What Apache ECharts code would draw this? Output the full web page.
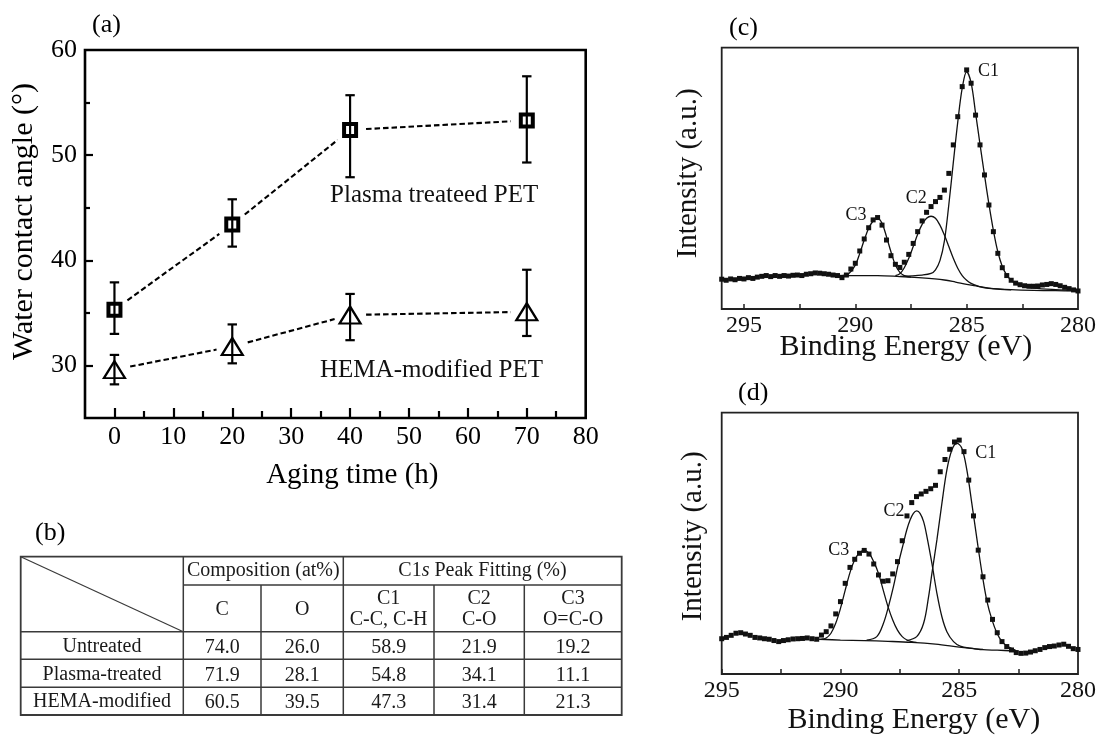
<!DOCTYPE html>
<html>
<head>
<meta charset="utf-8">
<script src="https://cdn.jsdelivr.net/npm/echarts@6/dist/echarts.min.js"></script>
<style>
  html, body { margin: 0; padding: 0; background: #fff; }
  #chart { width: 1101px; height: 736px; }
</style>
</head>
<body>
<div id="chart"></div>
<script>
// ---------- (a) water contact angle versus aging time ----------
const agingTime = [0, 20, 40, 70];
const plasmaAngle = [35.3, 43.4, 52.4, 53.3];
const plasmaErrLow = [33.0, 41.3, 47.9, 49.3];
const plasmaErrHigh = [37.9, 45.8, 55.7, 57.5];
const hemaAngle = [29.6, 31.8, 34.8, 35.1];
const hemaErrLow = [28.2, 30.2, 32.4, 32.8];
const hemaErrHigh = [31.0, 33.9, 36.8, 39.1];
const timeTickLabels = [0, 10, 20, 30, 40, 50, 60, 70, 80];
const timeMajorTicks = [0, 10, 20, 30, 40, 50, 60, 70];
const timeMinorTicks = [5, 15, 25, 35, 45, 55, 65, 75];
const angleTickLabels = [30, 40, 50, 60];
const angleMajorTicks = [30, 40, 50];
const angleMinorTicks = [35, 45, 55];
const curveNames = ['Plasma treateed PET', 'HEMA-modified PET'];

// ---------- (b) surface composition table ----------
const sampleNames = ['Untreated', 'Plasma-treated', 'HEMA-modified'];
const compC = [74.0, 71.9, 60.5];
const compO = [26.0, 28.1, 39.5];
const peakC1 = [58.9, 54.8, 47.3];
const peakC2 = [21.9, 34.1, 31.4];
const peakC3 = [19.2, 11.1, 21.3];
const columnHeads = ['C', 'O', 'C1\nC-C, C-H', 'C2\nC-O', 'C3\nO=C-O'];

// ---------- (c) C1s spectrum, plasma-treated PET ----------
const spectrumC = [
  [296.0, 11.4], [295.8, 11.0], [295.6, 11.5], [295.4, 11.2], [295.2, 11.7], [295.0, 11.5],
  [294.8, 12.0], [294.6, 11.7], [294.4, 12.2], [294.2, 12.5], [294.0, 12.8], [293.8, 12.4],
  [293.6, 12.8], [293.4, 12.5], [293.2, 12.8], [293.0, 12.6], [292.8, 12.9], [292.6, 13.0],
  [292.4, 12.8], [292.2, 13.3], [292.0, 13.5], [291.8, 13.8], [291.6, 13.7], [291.4, 13.5],
  [291.2, 13.3], [291.0, 13.0], [290.8, 12.8], [290.6, 12.0], [290.4, 13.0], [290.2, 15.3],
  [290.0, 17.5], [289.8, 22.2], [289.6, 26.8], [289.4, 31.1], [289.2, 34.1], [289.0, 35.0],
  [288.8, 32.1], [288.6, 26.4], [288.4, 20.4], [288.2, 17.1], [288.0, 15.9], [287.8, 17.9],
  [287.6, 20.9], [287.4, 25.1], [287.2, 29.6], [287.0, 33.7], [286.8, 37.0], [286.6, 39.2],
  [286.4, 41.1], [286.2, 42.7], [286.0, 45.5], [285.8, 51.9], [285.6, 62.8], [285.4, 73.6],
  [285.2, 85.1], [285.0, 91.5], [284.8, 86.4], [284.6, 74.2], [284.4, 62.8], [284.2, 51.3],
  [284.0, 39.8], [283.8, 29.6], [283.6, 21.3], [283.4, 15.8], [283.2, 12.8], [283.0, 11.0],
  [282.8, 9.9], [282.6, 9.3], [282.4, 8.9], [282.2, 8.7], [282.0, 8.7], [281.8, 8.8],
  [281.6, 9.2], [281.4, 9.4], [281.2, 9.7], [281.0, 9.4], [280.8, 8.9], [280.6, 8.3],
  [280.4, 7.8], [280.2, 7.3], [280.0, 6.9]
];
const backgroundC = [
  [290.8, 12.9], [290.0, 12.8], [289.0, 12.8], [288.0, 12.4], [287.0, 11.9], [286.0, 11.1],
  [285.5, 10.3], [285.0, 9.4], [284.5, 8.7], [284.0, 8.0], [283.0, 7.4], [282.0, 7.1],
  [281.0, 7.0], [280.0, 6.9]
];
const fitC3c = [
  [290.6, 12.8], [290.3, 13.5], [290.0, 16.8], [289.8, 21.3], [289.6, 26.4], [289.4, 30.9],
  [289.2, 33.7], [289.0, 34.7], [288.8, 32.8], [288.6, 27.7], [288.4, 21.9], [288.2, 16.8],
  [288.0, 14.0], [287.8, 12.8], [287.5, 12.2]
];
const fitC2c = [
  [288.2, 12.8], [288.0, 13.5], [287.8, 15.8], [287.6, 19.4], [287.4, 23.9], [287.2, 28.6],
  [287.0, 32.4], [286.8, 34.7], [286.6, 35.5], [286.4, 34.7], [286.2, 32.1], [286.0, 28.3],
  [285.8, 23.9], [285.6, 19.4], [285.4, 15.6], [285.2, 12.8], [285.0, 11.0], [284.8, 9.8],
  [284.6, 9.1], [284.3, 8.3], [284.0, 7.9], [283.5, 7.5], [283.0, 7.3]
];
const fitC1c = [
  [288.0, 12.5], [287.0, 13.0], [286.6, 13.6], [286.4, 15.0], [286.2, 18.5], [286.0, 26.0],
  [285.8, 40.0], [285.6, 56.0], [285.4, 71.5], [285.2, 84.5], [285.0, 90.8], [284.8, 86.5],
  [284.6, 75.0], [284.4, 63.0], [284.2, 51.3], [284.0, 40.1], [283.8, 30.1], [283.6, 21.9],
  [283.4, 16.3], [283.2, 13.0], [283.0, 11.0], [282.8, 9.7], [282.5, 8.7], [282.0, 8.0],
  [281.0, 7.4], [280.0, 7.0]
];

// ---------- (d) C1s spectrum, HEMA-modified PET ----------
const spectrumD = [
  [295.0, 13.5], [294.8, 14.0], [294.6, 14.8], [294.4, 15.6], [294.2, 15.8], [294.0, 15.3],
  [293.8, 14.8], [293.6, 14.0], [293.4, 13.8], [293.2, 13.5], [293.0, 13.3], [292.8, 12.8],
  [292.6, 12.4], [292.4, 12.8], [292.2, 13.1], [292.0, 13.4], [291.8, 13.5], [291.6, 13.6],
  [291.4, 13.8], [291.2, 13.5], [291.0, 13.3], [290.8, 14.9], [290.6, 16.2], [290.4, 18.4],
  [290.2, 23.0], [290.0, 27.7], [289.8, 34.7], [289.6, 40.8], [289.4, 43.9], [289.2, 46.2],
  [289.0, 47.3], [288.8, 45.9], [288.6, 42.1], [288.4, 37.9], [288.2, 35.5], [288.0, 35.7],
  [287.8, 38.3], [287.6, 43.0], [287.4, 51.0], [287.2, 60.5], [287.0, 65.6], [286.8, 67.9],
  [286.6, 68.9], [286.4, 69.9], [286.2, 70.9], [286.0, 72.2], [285.8, 77.4], [285.6, 82.1],
  [285.4, 86.0], [285.2, 88.8], [285.0, 89.5], [284.8, 85.1], [284.6, 74.2], [284.4, 60.5],
  [284.2, 47.4], [284.0, 37.2], [283.8, 28.3], [283.6, 20.9], [283.4, 15.8], [283.2, 12.4],
  [283.0, 10.5], [282.8, 9.2], [282.6, 8.2], [282.4, 7.9], [282.2, 8.0], [282.0, 8.4],
  [281.8, 8.9], [281.6, 9.4], [281.4, 10.1], [281.2, 10.5], [281.0, 10.7], [280.8, 11.1],
  [280.6, 11.4], [280.4, 10.6], [280.2, 9.7], [280.0, 9.4]
];
const backgroundD = [
  [290.9, 13.3], [290.0, 13.0], [289.0, 12.8], [288.0, 12.5], [287.0, 12.1], [286.0, 11.4],
  [285.0, 10.3], [284.4, 9.7], [284.0, 9.3], [283.4, 9.1], [282.6, 8.8]
];
const fitC3d = [
  [290.8, 13.3], [290.6, 13.8], [290.4, 15.6], [290.2, 19.4], [290.0, 25.1], [289.8, 32.1],
  [289.6, 38.8], [289.4, 43.7], [289.2, 46.4], [289.0, 47.3], [288.8, 46.2], [288.6, 43.0],
  [288.4, 38.5], [288.2, 32.1], [288.0, 25.8], [287.8, 20.7], [287.6, 16.8], [287.4, 14.3],
  [287.2, 13.0], [287.0, 12.4], [286.8, 12.1]
];
const fitC2d = [
  [288.9, 13.0], [288.47, 14.3], [288.19, 19.4], [287.98, 25.8], [287.77, 33.4], [287.56, 42.3],
  [287.35, 50.0], [287.21, 55.1], [287.07, 58.9], [286.93, 61.5], [286.79, 62.4], [286.65, 61.5],
  [286.5, 58.3], [286.36, 52.6], [286.15, 42.3], [285.94, 30.9], [285.73, 21.9], [285.52, 16.2],
  [285.24, 12.4], [284.96, 10.7], [284.54, 9.9], [284.0, 9.4]
];
const fitC1d = [
  [287.21, 12.8], [286.79, 14.3], [286.5, 19.4], [286.29, 29.6], [286.15, 38.5], [285.94, 51.3],
  [285.73, 65.3], [285.52, 78.1], [285.31, 85.7], [285.1, 88.3], [284.89, 86.4], [284.68, 78.1],
  [284.47, 65.3], [284.25, 51.3], [284.04, 38.5], [283.83, 27.7], [283.62, 20.7], [283.41, 15.6],
  [283.2, 12.4], [282.99, 10.7], [282.71, 9.4], [282.6, 8.9]
];
const peakNames = ['C1', 'C2', 'C3'];
const energyTickLabels = [295, 290, 285, 280];
const energyTicks = [295, 292.5, 290, 287.5, 285, 282.5];

// ---------- drawing ----------
const SERIF = "'Liberation Serif', 'Times New Roman', 'DejaVu Serif', serif";
const INK = '#000';

// where the curve names and peak names sit, in data units of their panels
const curveNameAnchors = [[36.6, 46.2], [34.9, 29.5]];
const peakAnchorsC = [[284.49, 91.1], [287.74, 42.4], [290.44, 35.7]];
const peakAnchorsD = [[284.33, 84.5], [288.19, 62.1], [290.51, 47.5]];

const chart = echarts.init(document.getElementById('chart'), null, { renderer: 'canvas' });

function errorBarItem(params, api) {
  const x = api.value(0);
  const lo = api.coord([x, api.value(1)]);
  const hi = api.coord([x, api.value(2)]);
  const cap = 4.7;
  const style = { stroke: INK, lineWidth: 2.2 };
  return {
    type: 'group',
    children: [
      { type: 'line', shape: { x1: lo[0], y1: lo[1], x2: hi[0], y2: hi[1] }, style },
      { type: 'line', shape: { x1: hi[0] - cap, y1: hi[1], x2: hi[0] + cap, y2: hi[1] }, style },
      { type: 'line', shape: { x1: lo[0] - cap, y1: lo[1], x2: lo[0] + cap, y2: lo[1] }, style }
    ]
  };
}

// dashed joins that stop short of each marker
function connectorItem(params, api) {
  const a = api.coord([api.value(0), api.value(1)]);
  const b = api.coord([api.value(2), api.value(3)]);
  const dx = b[0] - a[0], dy = b[1] - a[1];
  const len = Math.hypot(dx, dy);
  const ux = dx / len, uy = dy / len, gap = 16;
  return {
    type: 'line',
    shape: { x1: a[0] + ux * gap, y1: a[1] + uy * gap, x2: b[0] - ux * gap, y2: b[1] - uy * gap },
    style: { stroke: INK, lineWidth: 2.1, lineDash: [5.5, 3] }
  };
}

function segments(xs, ys) {
  const out = [];
  for (let i = 0; i < xs.length - 1; i++) out.push([xs[i], ys[i], xs[i + 1], ys[i + 1]]);
  return out;
}

function fitLine(data, xi, yi) {
  return {
    type: 'line', xAxisIndex: xi, yAxisIndex: yi, data: data,
    showSymbol: false, symbol: 'none', smooth: 0.35, silent: true,
    lineStyle: { color: '#111', width: 1.3 }, z: 3
  };
}

function spectrumSeries(data, xi, yi) {
  return {
    type: 'scatter', xAxisIndex: xi, yAxisIndex: yi, data: data,
    symbol: 'rect', symbolSize: 5, silent: true,
    itemStyle: { color: '#111', opacity: 1 }, z: 4
  };
}

function peakLabelSeries(anchors, xi, yi) {
  return {
    type: 'scatter', xAxisIndex: xi, yAxisIndex: yi, symbolSize: 0, silent: true,
    itemStyle: { opacity: 1 },
    data: anchors.map((p, i) => ({ value: p, name: peakNames[i] })),
    label: { show: true, position: 'right', distance: 0, formatter: '{b}',
             fontFamily: SERIF, fontSize: 18, color: '#111', opacity: 1 },
    z: 6
  };
}

// ---------- table (b) ----------
const tableX = [20.7, 183.3, 261, 343.3, 434, 524.3, 621.7];
const tableY = [556.7, 585, 631.7, 659.3, 687.3, 715];
const tableValues = [compC, compO, peakC1, peakC2, peakC3];

function buildTable() {
  const els = [];
  const ls = { stroke: '#3a3a3a', lineWidth: 1.5 };
  const txt = { fontFamily: SERIF, fontSize: 20, fill: '#1a1a1a', align: 'center', verticalAlign: 'middle', lineHeight: 21.5 };
  const L = tableX[0], R = tableX[tableX.length - 1], T = tableY[0], B = tableY[tableY.length - 1];
  els.push({ type: 'rect', shape: { x: L, y: T, width: R - L, height: B - T }, style: { fill: 'none', stroke: '#3a3a3a', lineWidth: 1.8 } });
  // vertical rules
  [1, 3].forEach(i => els.push({ type: 'line', shape: { x1: tableX[i], y1: T, x2: tableX[i], y2: B }, style: ls }));
  [2, 4, 5].forEach(i => els.push({ type: 'line', shape: { x1: tableX[i], y1: tableY[1], x2: tableX[i], y2: B }, style: ls }));
  // horizontal rules
  els.push({ type: 'line', shape: { x1: tableX[1], y1: tableY[1], x2: R, y2: tableY[1] }, style: ls });
  for (let r = 2; r < tableY.length - 1; r++) {
    els.push({ type: 'line', shape: { x1: L, y1: tableY[r], x2: R, y2: tableY[r] }, style: ls });
  }
  // diagonal in the corner cell
  els.push({ type: 'line', shape: { x1: L, y1: T, x2: tableX[1], y2: tableY[2] }, style: { stroke: '#3a3a3a', lineWidth: 1.2 } });
  // group headings
  const h1y = (tableY[0] + tableY[1]) / 2;
  els.push({ type: 'text', style: Object.assign({}, txt, { text: 'Composition (at%)', x: (tableX[1] + tableX[3]) / 2, y: h1y }) });
  els.push({ type: 'text', style: Object.assign({}, txt, {
    text: '{n|C1}{i|s}{n| Peak Fitting (%)}', x: (tableX[3] + R) / 2, y: h1y,
    rich: { n: { fontFamily: SERIF, fontSize: 20, fill: '#1a1a1a' },
            i: { fontFamily: SERIF, fontSize: 20, fontStyle: 'italic', fill: '#1a1a1a' } }
  }) });
  // column headings
  const h2y = (tableY[1] + tableY[2]) / 2 + 1;
  columnHeads.forEach((h, c) => {
    els.push({ type: 'text', style: Object.assign({}, txt, { text: h, x: (tableX[c + 1] + tableX[c + 2]) / 2, y: h2y }) });
  });
  // body
  sampleNames.forEach((name, r) => {
    const cy = (tableY[r + 2] + tableY[r + 3]) / 2 + 1;
    els.push({ type: 'text', style: Object.assign({}, txt, { text: name, x: (tableX[0] + tableX[1]) / 2, y: cy }) });
    tableValues.forEach((col, c) => {
      els.push({ type: 'text', style: Object.assign({}, txt, { text: col[r].toFixed(1), x: (tableX[c + 1] + tableX[c + 2]) / 2, y: cy + 1 }) });
    });
  });
  return els;
}

function panelTag(text, x, y) {
  return { type: 'text', style: { text, x, y, fontFamily: SERIF, fontSize: 26, fill: INK, align: 'left', verticalAlign: 'middle' } };
}

const tickLabelA = { fontFamily: SERIF, fontSize: 26, color: INK };
const tickLabelXps = { fontFamily: SERIF, fontSize: 24, color: '#111' };
const noLine = { show: false, onZero: false };

const option = {
  animation: false,
  backgroundColor: '#fff',
  grid: [
    { left: 85, top: 50, width: 500.7, height: 368, show: true, borderColor: INK, borderWidth: 2.6, backgroundColor: 'transparent', outerBoundsMode: 'none' },
    { left: 721.7, top: 47.7, width: 356.3, height: 261.3, show: true, borderColor: '#222', borderWidth: 1.8, backgroundColor: 'transparent', outerBoundsMode: 'none' },
    { left: 721.7, top: 412.7, width: 356.3, height: 261.3, show: true, borderColor: '#222', borderWidth: 1.8, backgroundColor: 'transparent', outerBoundsMode: 'none' }
  ],
  xAxis: [
    { gridIndex: 0, type: 'value', position: 'bottom', min: -5, max: 80,
      axisLine: noLine, splitLine: { show: false },
      axisTick: { show: true, inside: true, length: 10, customValues: timeMajorTicks, lineStyle: { color: INK, width: 2.2 } },
      axisLabel: Object.assign({ customValues: timeTickLabels, margin: 6 }, tickLabelA),
      name: 'Aging time (h)', nameLocation: 'middle', nameGap: 43, nameMoveOverlap: false,
      nameTextStyle: { fontFamily: SERIF, fontSize: 29, color: INK, padding: [0, 0, 0, 34] } },
    { gridIndex: 0, type: 'value', position: 'bottom', min: -5, max: 80,
      axisLine: noLine, splitLine: { show: false }, axisLabel: { show: false },
      axisTick: { show: true, inside: true, length: 7, customValues: timeMinorTicks, lineStyle: { color: INK, width: 2.2 } } },
    { gridIndex: 1, type: 'value', position: 'bottom', min: 280, max: 296, inverse: true,
      axisLine: noLine, splitLine: { show: false },
      axisTick: { show: true, inside: true, length: 5, customValues: energyTicks, lineStyle: { color: '#222', width: 1.5 } },
      axisLabel: Object.assign({ customValues: energyTickLabels, margin: 5 }, tickLabelXps),
      name: 'Binding Energy (eV)', nameLocation: 'middle', nameGap: 23, nameMoveOverlap: false,
      nameTextStyle: { fontFamily: SERIF, fontSize: 30, color: '#111', padding: [0, 0, 0, 12] } },
    { gridIndex: 2, type: 'value', position: 'bottom', min: 280, max: 295, inverse: true,
      axisLine: noLine, splitLine: { show: false },
      axisTick: { show: true, inside: true, length: 5, customValues: energyTicks, lineStyle: { color: '#222', width: 1.5 } },
      axisLabel: Object.assign({ customValues: energyTickLabels, margin: 5 }, tickLabelXps),
      name: 'Binding Energy (eV)', nameLocation: 'middle', nameGap: 31, nameMoveOverlap: false,
      nameTextStyle: { fontFamily: SERIF, fontSize: 30, color: '#111', padding: [0, 0, 0, 28] } }
  ],
  yAxis: [
    { gridIndex: 0, type: 'value', position: 'left', min: 25, max: 60,
      axisLine: noLine, splitLine: { show: false },
      axisTick: { show: true, inside: true, length: 8, customValues: angleMajorTicks, lineStyle: { color: INK, width: 2.2 } },
      axisLabel: Object.assign({ customValues: angleTickLabels, margin: 8 }, tickLabelA),
      name: 'Water contact angle (\u00B0)', nameLocation: 'middle', nameGap: 46, nameMoveOverlap: false,
      nameTextStyle: { fontFamily: SERIF, fontSize: 30, color: INK, padding: [0, 0, 0, 25] } },
    { gridIndex: 0, type: 'value', position: 'left', min: 25, max: 60,
      axisLine: noLine, splitLine: { show: false }, axisLabel: { show: false },
      axisTick: { show: true, inside: true, length: 5, customValues: angleMinorTicks, lineStyle: { color: INK, width: 2.2 } } },
    { gridIndex: 1, type: 'value', position: 'left', min: 0, max: 100,
      axisLine: noLine, splitLine: { show: false }, axisTick: { show: false }, axisLabel: { show: false },
      name: 'Intensity (a.u.)', nameLocation: 'middle', nameGap: 19, nameMoveOverlap: false,
      nameTextStyle: { fontFamily: SERIF, fontSize: 29, color: '#111', padding: [0, 0, 0, 10] } },
    { gridIndex: 2, type: 'value', position: 'left', min: 0, max: 100,
      axisLine: noLine, splitLine: { show: false }, axisTick: { show: false }, axisLabel: { show: false },
      name: 'Intensity (a.u.)', nameLocation: 'middle', nameGap: 14, nameMoveOverlap: false,
      nameTextStyle: { fontFamily: SERIF, fontSize: 29, color: '#111', padding: [0, 0, 0, 14] } }
  ],
  series: [
    // (a)
    { type: 'custom', xAxisIndex: 0, yAxisIndex: 0, silent: true, renderItem: errorBarItem, encode: { x: 0, y: [1, 2] },
      data: agingTime.map((t, i) => [t, plasmaErrLow[i], plasmaErrHigh[i]]), z: 3 },
    { type: 'custom', xAxisIndex: 0, yAxisIndex: 0, silent: true, renderItem: errorBarItem, encode: { x: 0, y: [1, 2] },
      data: agingTime.map((t, i) => [t, hemaErrLow[i], hemaErrHigh[i]]), z: 3 },
    { type: 'custom', xAxisIndex: 0, yAxisIndex: 0, silent: true, renderItem: connectorItem, encode: { x: [0, 2], y: [1, 3] },
      data: segments(agingTime, plasmaAngle), z: 2 },
    { type: 'custom', xAxisIndex: 0, yAxisIndex: 0, silent: true, renderItem: connectorItem, encode: { x: [0, 2], y: [1, 3] },
      data: segments(agingTime, hemaAngle), z: 2 },
    { type: 'scatter', name: curveNames[0], xAxisIndex: 0, yAxisIndex: 0, silent: true,
      data: agingTime.map((t, i) => [t, plasmaAngle[i]]),
      symbol: 'rect', symbolSize: 12, itemStyle: { color: 'rgba(255,255,255,0)', borderColor: INK, borderWidth: 4, opacity: 1 }, z: 4 },
    { type: 'scatter', name: curveNames[1], xAxisIndex: 0, yAxisIndex: 0, silent: true,
      data: agingTime.map((t, i) => [t, hemaAngle[i]]),
      symbol: 'triangle', symbolSize: [21, 17], itemStyle: { color: 'rgba(255,255,255,0)', borderColor: INK, borderWidth: 2.2, opacity: 1 }, z: 4 },
    { type: 'scatter', xAxisIndex: 0, yAxisIndex: 0, symbolSize: 0, silent: true, itemStyle: { opacity: 1 },
      data: curveNameAnchors.map((p, i) => ({ value: p, name: curveNames[i] })),
      label: { show: true, position: 'right', distance: 0, formatter: '{b}', fontFamily: SERIF, fontSize: 25, color: '#111', opacity: 1 } },
    // (c)
    spectrumSeries(spectrumC, 2, 2),
    fitLine(backgroundC, 2, 2), fitLine(fitC3c, 2, 2), fitLine(fitC2c, 2, 2), fitLine(fitC1c, 2, 2),
    peakLabelSeries(peakAnchorsC, 2, 2),
    // (d)
    spectrumSeries(spectrumD, 3, 3),
    fitLine(backgroundD, 3, 3), fitLine(fitC3d, 3, 3), fitLine(fitC2d, 3, 3), fitLine(fitC1d, 3, 3),
    peakLabelSeries(peakAnchorsD, 3, 3)
  ],
  graphic: [
    panelTag('(a)', 92, 25),
    panelTag('(b)', 35, 533),
    panelTag('(c)', 729, 28),
    panelTag('(d)', 738, 393)
  ].concat(buildTable())
};

chart.setOption(option);
</script>
</body>
</html>
